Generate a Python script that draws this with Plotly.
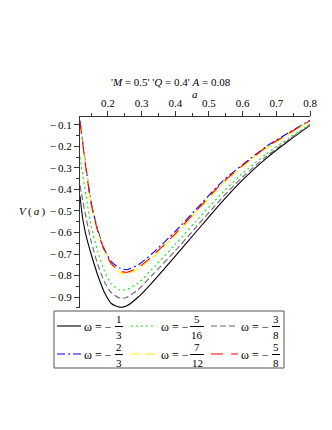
import plotly.graph_objects as go

# ---- data ----
a_vals = [0.117, 0.125, 0.135, 0.15, 0.17, 0.19, 0.21, 0.235, 0.255, 0.29, 0.33,
          0.4, 0.46, 0.54, 0.6, 0.67, 0.74, 0.8]

v_w_1_3 = [-0.43, -0.535, -0.615, -0.70, -0.80, -0.88, -0.93, -0.947, -0.942, -0.90, -0.835,
           -0.71, -0.60, -0.455, -0.355, -0.255, -0.17, -0.102]
v_w_5_16 = [-0.25, -0.33, -0.43, -0.57, -0.69, -0.78, -0.84, -0.866, -0.866, -0.835, -0.772,
            -0.655, -0.55, -0.415, -0.325, -0.235, -0.158, -0.097]
v_w_3_8 = [-0.38, -0.45, -0.53, -0.64, -0.75, -0.83, -0.88, -0.905, -0.902, -0.865, -0.80,
           -0.685, -0.578, -0.437, -0.342, -0.247, -0.165, -0.10]
v_w_2_3 = [-0.08, -0.18, -0.30, -0.46, -0.59, -0.68, -0.735, -0.765, -0.773, -0.75, -0.70,
           -0.595, -0.495, -0.362, -0.285, -0.20, -0.133, -0.078]
v_w_7_12 = [-0.09, -0.19, -0.31, -0.47, -0.60, -0.69, -0.75, -0.785, -0.792, -0.77, -0.72,
            -0.613, -0.51, -0.375, -0.293, -0.208, -0.14, -0.083]
v_w_5_8 = [-0.085, -0.185, -0.305, -0.465, -0.595, -0.685, -0.745, -0.778, -0.785, -0.762, -0.712,
           -0.605, -0.503, -0.368, -0.288, -0.204, -0.136, -0.08]

x_tickvals = [0.2, 0.3, 0.4, 0.5, 0.6, 0.7, 0.8]
x_ticktext = ["0.2", "0.3", "0.4", "0.5", "0.6", "0.7", "0.8"]
y_tickvals = [-0.1, -0.2, -0.3, -0.4, -0.5, -0.6, -0.7, -0.8, -0.9]
y_ticktext = ["\u2212\u20090.1", "\u2212\u20090.2", "\u2212\u20090.3", "\u2212\u20090.4",
              "\u2212\u20090.5", "\u2212\u20090.6", "\u2212\u20090.7", "\u2212\u20090.8",
              "\u2212\u20090.9"]

series = [
    ("1", "3", v_w_1_3, "#000000", "solid"),
    ("5", "16", v_w_5_16, "#00ee00", "2px,3px"),
    ("3", "8", v_w_3_8, "#7a5a7a", "6px,3px"),
    ("2", "3", v_w_2_3, "#0000ff", "8px,3px,2px,3px"),
    ("7", "12", v_w_7_12, "#ffee00", "10px,4px"),
    ("5", "8", v_w_5_8, "#ff0000", "12px,8px"),
]

# ---- geometry ----
FW, FH = 332, 430
L, R, T, B = 72, 302, 109, 300
W, H = R - L, B - T


def px(x):
    return (x - L) / W


def py(y):
    return (B - y) / H


fig = go.Figure()
for num, den, vals, col, dash in series:
    fig.add_trace(go.Scatter(
        x=a_vals, y=vals, mode="lines",
        line=dict(color=col, width=1.1, dash=dash, shape="spline", smoothing=0.7),
        name=f"ω = −{num}/{den}", showlegend=False))

serif = "Liberation Serif"

annotations = []
shapes = []

# title, axis labels
annotations.append(dict(text="'<i>M</i> = 0.5' '<i>Q</i> = 0.4' <i>A</i> = 0.08",
                        x=px(163), y=py(74), xref="paper", yref="paper",
                        showarrow=False, font=dict(family=serif, size=11, color="black"),
                        xanchor="center", yanchor="middle"))
annotations.append(dict(text="<i>a</i>", x=px(187), y=py(86), xref="paper", yref="paper",
                        showarrow=False, font=dict(family=serif, size=11, color="black"),
                        xanchor="center", yanchor="middle"))
annotations.append(dict(text="<i>V</i>\u2009(\u2009<i>a</i>\u2009)", x=px(24), y=py(203),
                        xref="paper", yref="paper",
                        showarrow=False, font=dict(family=serif, size=11, color="black"),
                        xanchor="center", yanchor="middle"))

# legend box
shapes.append(dict(type="rect", xref="paper", yref="paper",
                   x0=px(46), x1=px(276), y0=py(303), y1=py(360),
                   line=dict(color="#555555", width=1)))

cols_x = [(49, 73, 90, 111), (123, 147, 167, 189), (203, 230, 247, 268)]
rows_y = [318, 346]
for i, (num, den, vals, col, dash) in enumerate(series):
    r, c = divmod(i, 3)
    sx0, sx1, tx, fx = cols_x[c]
    yc = rows_y[r]
    shapes.append(dict(type="line", xref="paper", yref="paper",
                       x0=px(sx0), x1=px(sx1), y0=py(yc), y1=py(yc),
                       line=dict(color=col, width=1.1, dash=dash)))
    annotations.append(dict(text="ω = −", x=px(tx), y=py(yc + 1), xref="paper", yref="paper",
                            showarrow=False, font=dict(family=serif, size=12, color="black"),
                            xanchor="center", yanchor="middle"))
    annotations.append(dict(text=num, x=px(fx), y=py(yc - 7), xref="paper", yref="paper",
                            showarrow=False, font=dict(family=serif, size=11, color="black"),
                            xanchor="center", yanchor="middle"))
    annotations.append(dict(text=den, x=px(fx), y=py(yc + 8.5), xref="paper", yref="paper",
                            showarrow=False, font=dict(family=serif, size=11, color="black"),
                            xanchor="center", yanchor="middle"))
    hw = 4 if len(den) == 1 else 7
    shapes.append(dict(type="line", xref="paper", yref="paper",
                       x0=px(fx - hw), x1=px(fx + hw), y0=py(yc + 0.5), y1=py(yc + 0.5),
                       line=dict(color="black", width=1)))

fig.update_layout(
    width=FW, height=FH,
    margin=dict(l=L, r=FW - R, t=T, b=FH - B, pad=0),
    paper_bgcolor="white", plot_bgcolor="white",
    showlegend=False,
    annotations=annotations, shapes=shapes,
    xaxis=dict(range=[0.117, 0.8], side="top", showline=True, linecolor="#333333", linewidth=1,
               showgrid=False, zeroline=False, ticks="outside", ticklen=5, tickcolor="#333333",
               tickvals=x_tickvals, ticktext=x_ticktext,
               minor=dict(dtick=0.05, tick0=0, ticks="outside", ticklen=3, tickcolor="#333333", showgrid=False),
               tickfont=dict(family=serif, size=11, color="black")),
    yaxis=dict(range=[-0.951, -0.063], showline=True, linecolor="#333333", linewidth=1,
               showgrid=False, zeroline=False, ticks="outside", ticklen=5, tickcolor="#333333",
               tickvals=y_tickvals, ticktext=y_ticktext,
               minor=dict(dtick=0.05, tick0=0, ticks="outside", ticklen=3, tickcolor="#333333", showgrid=False),
               tickfont=dict(family=serif, size=11, color="black")),
)

fig.write_html("out.html")
